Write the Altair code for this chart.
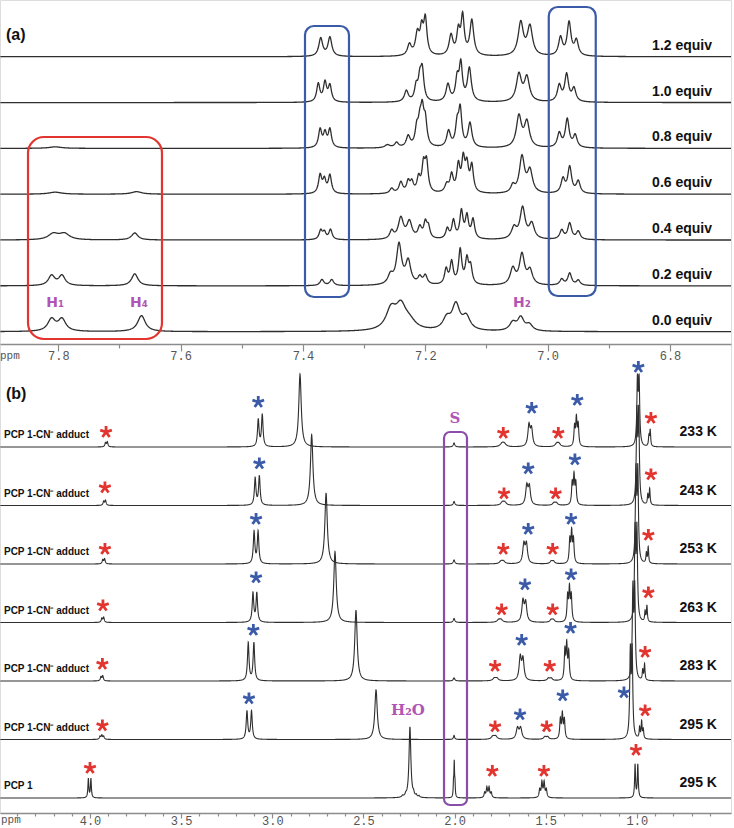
import numpy as np
import pandas as pd
import altair as alt

alt.data_transformers.disable_max_rows()

# ---------------------------------------------------------------------------
# (a) aromatic region, titration with cyanide: peak lists (ppm, height, half-width)
# ---------------------------------------------------------------------------
equiv_names = ["0.0 equiv", "0.2 equiv", "0.4 equiv", "0.6 equiv",
               "0.8 equiv", "1.0 equiv", "1.2 equiv"]

peaks_00 = [(7.811, 12, 0.006), (7.794, 12, 0.006), (7.664, 16, 0.006),
            (7.256, 20, 0.008), (7.240, 22, 0.008), (7.226, 8, 0.01),
            (7.165, 11, 0.006), (7.150, 25, 0.006), (7.133, 13, 0.006),
            (7.057, 8, 0.005), (7.044, 13, 0.005), (7.030, 6, 0.005)]
peaks_02 = [(7.811, 10, 0.005), (7.794, 10, 0.005), (7.675, 12, 0.005),
            (7.369, 6, 0.003), (7.353, 6, 0.003),
            (7.257, 9, 0.004), (7.243, 40, 0.004), (7.228, 23, 0.004),
            (7.209, 7, 0.003), (7.200, 9, 0.003),
            (7.166, 15, 0.0025), (7.157, 22, 0.0025), (7.143, 34, 0.0025),
            (7.132, 24, 0.0025), (7.126, 17, 0.0025),
            (7.057, 16, 0.004), (7.042, 30, 0.004), (7.029, 14, 0.004),
            (6.977, 6, 0.003), (6.964, 12, 0.003), (6.950, 5, 0.003)]
peaks_04 = [(7.808, 6, 0.008), (7.790, 6, 0.008), (7.675, 7, 0.005),
            (7.371, 9, 0.0025), (7.365, 7, 0.0025), (7.355, 10, 0.0025),
            (7.255, 8, 0.003), (7.240, 21, 0.004), (7.226, 17, 0.004),
            (7.209, 11, 0.003), (7.200, 15, 0.0025), (7.195, 11, 0.0025),
            (7.164, 10, 0.0025), (7.154, 18, 0.0025), (7.141, 27, 0.0025),
            (7.132, 22, 0.0025), (7.122, 19, 0.0025),
            (7.055, 11, 0.004), (7.041, 31, 0.004), (7.026, 15, 0.004),
            (6.977, 9, 0.003), (6.964, 16, 0.003), (6.950, 8, 0.003)]
peaks_06 = [(7.805, 2, 0.01), (7.672, 2.5, 0.008),
            (7.372, 18, 0.0025), (7.365, 13, 0.0025), (7.356, 18, 0.0025),
            (7.255, 5, 0.003), (7.240, 11, 0.003), (7.228, 11, 0.0025),
            (7.222, 10, 0.0025), (7.211, 14, 0.0025), (7.203, 26, 0.0025),
            (7.198, 29, 0.0025),
            (7.165, 8, 0.003), (7.157, 17, 0.0025), (7.146, 26, 0.0025),
            (7.138, 31, 0.0025), (7.132, 25, 0.0025), (7.124, 26, 0.0025),
            (7.057, 7, 0.003), (7.042, 36, 0.004), (7.029, 22, 0.004),
            (6.975, 14, 0.003), (6.964, 26, 0.003), (6.950, 12, 0.003)]
peaks_08 = [(7.805, 1.5, 0.01),
            (7.372, 18, 0.0025), (7.364, 14, 0.0025), (7.356, 18, 0.0025),
            (7.262, 3, 0.004), (7.247, 5, 0.003), (7.228, 11, 0.003),
            (7.214, 17, 0.0025), (7.209, 20, 0.0025), (7.205, 32, 0.0025),
            (7.200, 24, 0.0025),
            (7.162, 16, 0.003), (7.148, 21, 0.0025), (7.143, 36, 0.0025),
            (7.127, 24, 0.003),
            (7.047, 31, 0.004), (7.034, 25, 0.004),
            (6.981, 14, 0.003), (6.968, 28, 0.003), (6.955, 12, 0.003)]
peaks_10 = [(7.375, 18, 0.0025), (7.364, 19, 0.0025), (7.356, 16, 0.0025),
            (7.231, 11, 0.003), (7.215, 14, 0.0025), (7.209, 20, 0.0025),
            (7.205, 29, 0.0025),
            (7.163, 17, 0.003), (7.148, 21, 0.0025), (7.142, 36, 0.0025),
            (7.128, 33, 0.003),
            (7.047, 27, 0.004), (7.034, 24, 0.004),
            (6.981, 16, 0.003), (6.969, 27, 0.003), (6.957, 13, 0.003)]
peaks_12 = [(7.371, 18, 0.003), (7.356, 19, 0.003),
            (7.226, 11, 0.003), (7.213, 21, 0.003), (7.206, 24, 0.0025),
            (7.200, 35, 0.0025),
            (7.158, 20, 0.003), (7.146, 23, 0.0025), (7.139, 38, 0.0025),
            (7.124, 35, 0.003),
            (7.044, 33, 0.004), (7.029, 29, 0.004),
            (6.979, 18, 0.003), (6.965, 33, 0.003), (6.953, 15, 0.003)]
titration_peaks = [peaks_00, peaks_02, peaks_04, peaks_06, peaks_08, peaks_10, peaks_12]

# ---------------------------------------------------------------------------
# (b) aliphatic region, variable temperature
# ---------------------------------------------------------------------------
left_names = ["PCP 1"] + ["PCP 1-CN\u207b adduct"] * 6
temp_names = ["295 K", "295 K", "283 K", "263 K", "253 K", "243 K", "233 K"]

pcp1 = [(4.009, 19, 0.003), (3.995, 19, 0.003),
        (2.285, 1.5, 0.005), (2.268, 2, 0.004), (2.245, 71, 0.006),
        (2.225, 3, 0.004), (2.210, 2, 0.004), (2.195, 1.5, 0.004),
        (2.006, 13, 0.002), (2.002, 33, 0.002), (1.998, 13, 0.002),
        (1.835, 5, 0.004), (1.823, 10, 0.004), (1.811, 10, 0.004), (1.799, 5, 0.004),
        (1.533, 8, 0.004), (1.521, 15, 0.004), (1.509, 15, 0.004), (1.497, 8, 0.004),
        (1.010, 33, 0.003), (0.995, 33, 0.003)]
k295 = [(3.945, 3, 0.004), (3.935, 4, 0.004), (3.925, 3, 0.004),
        (3.139, 28, 0.005), (3.114, 28, 0.005),
        (2.431, 50, 0.008), (2.003, 4, 0.004),
        (1.790, 3, 0.01), (1.775, 3, 0.01),
        (1.655, 11, 0.008), (1.638, 11, 0.008),
        (1.505, 2.5, 0.008), (1.490, 2.5, 0.008),
        (1.420, 19, 0.004), (1.409, 24, 0.004), (1.398, 19, 0.004),
        (1.036, 84, 0.004), (1.026, 84, 0.004),
        (0.985, 11, 0.003), (0.974, 17, 0.003), (0.965, 9, 0.003)]
k283 = [(3.940, 4, 0.004), (3.930, 5, 0.004),
        (3.132, 38, 0.005), (3.101, 38, 0.005),
        (2.541, 71, 0.008), (2.003, 3, 0.005),
        (1.782, 2.5, 0.01), (1.768, 2.5, 0.01),
        (1.640, 23, 0.007), (1.625, 21, 0.007),
        (1.485, 2.5, 0.008), (1.470, 2.5, 0.008),
        (1.395, 29, 0.004), (1.385, 34, 0.004), (1.374, 27, 0.004),
        (1.022, 88, 0.004), (1.012, 88, 0.004),
        (0.968, 10, 0.003), (0.958, 16, 0.003)]
k263 = [(3.935, 4, 0.004), (3.925, 5, 0.004),
        (3.106, 29, 0.005), (3.085, 29, 0.005),
        (2.656, 71, 0.008), (2.003, 4, 0.005),
        (1.758, 2.5, 0.01), (1.745, 2.5, 0.01),
        (1.625, 21, 0.007), (1.610, 19, 0.007),
        (1.380, 25, 0.004), (1.370, 32, 0.004), (1.360, 25, 0.004),
        (1.470, 2.5, 0.008), (1.458, 2.5, 0.008),
        (1.010, 88, 0.004), (1.000, 88, 0.004),
        (0.955, 10, 0.003), (0.945, 16, 0.003)]
k253 = [(3.930, 4, 0.004), (3.920, 5, 0.004),
        (3.100, 32, 0.005), (3.078, 32, 0.005),
        (2.705, 71, 0.008), (2.003, 4, 0.005),
        (1.745, 2.5, 0.01), (1.732, 2.5, 0.01),
        (1.620, 19, 0.007), (1.606, 19, 0.007),
        (1.470, 2.5, 0.008), (1.458, 2.5, 0.008),
        (1.368, 23, 0.004), (1.358, 30, 0.004), (1.348, 23, 0.004),
        (1.005, 88, 0.004), (0.995, 88, 0.004),
        (0.948, 10, 0.003), (0.938, 16, 0.003)]
k243 = [(3.925, 4, 0.004), (3.915, 5, 0.004),
        (3.094, 27, 0.005), (3.071, 29, 0.005),
        (2.784, 71, 0.008), (2.003, 4, 0.005),
        (1.738, 3, 0.01), (1.725, 3, 0.01),
        (1.604, 19, 0.007), (1.590, 18, 0.007),
        (1.455, 2.5, 0.008), (1.442, 2.5, 0.008),
        (1.355, 21, 0.004), (1.345, 28, 0.004), (1.335, 21, 0.004),
        (1.000, 88, 0.004), (0.990, 88, 0.004),
        (0.940, 10, 0.003), (0.930, 16, 0.003)]
k233 = [(3.915, 4, 0.004), (3.905, 5, 0.004),
        (3.077, 27, 0.005), (3.055, 32, 0.005),
        (2.848, 73, 0.008), (2.003, 4, 0.005),
        (1.740, 3, 0.012), (1.728, 3, 0.012),
        (1.592, 21, 0.007), (1.578, 17, 0.007),
        (1.440, 3, 0.01), (1.428, 3, 0.01),
        (1.342, 19, 0.004), (1.332, 27, 0.004), (1.322, 21, 0.004),
        (0.997, 63, 0.004), (0.988, 63, 0.004),
        (0.934, 10, 0.003), (0.927, 16, 0.003)]
vt_peaks = [pcp1, k295, k283, k263, k253, k243, k233]

# starred signals: (trace index, ppm, height above the trace baseline)
red_stars = [(0, 4.000, 30), (0, 1.793, 27), (0, 1.510, 27), (0, 1.005, 48),
             (1, 3.932, 14), (1, 1.778, 13), (1, 1.495, 13), (1, 0.955, 29),
             (2, 3.932, 17), (2, 1.778, 15), (2, 1.478, 15), (2, 0.955, 29),
             (3, 3.929, 17), (3, 1.742, 13), (3, 1.462, 13), (3, 0.937, 30),
             (4, 3.918, 15), (4, 1.733, 15), (4, 1.462, 15), (4, 0.937, 29),
             (5, 3.918, 18), (5, 1.729, 12), (5, 1.446, 12), (5, 0.923, 31),
             (6, 3.912, 15), (6, 1.733, 14), (6, 1.431, 14), (6, 0.923, 29)]
blue_stars = [(1, 3.128, 41), (1, 1.641, 25), (1, 1.407, 44), (1, 1.071, 47),
              (2, 3.104, 51), (2, 1.632, 41), (2, 1.364, 53),
              (3, 3.089, 45), (3, 1.614, 38), (3, 1.361, 48),
              (4, 3.089, 45), (4, 1.596, 35), (4, 1.361, 45),
              (5, 3.071, 42), (5, 1.596, 37), (5, 1.340, 46),
              (6, 3.077, 45), (6, 1.577, 39), (6, 1.327, 47), (6, 0.992, 80)]

# ---------------------------------------------------------------------------
# layout constants (vertical units are pixels above the lower ppm axis)
# ---------------------------------------------------------------------------
PLOT_W, PLOT_H = 731, 813
A_AXIS_Y = 344
A_BASE0, A_STEP = 481.3, 45.83
B_BASE0, B_STEP = 15.0, 58.5
A_DOMAIN = [6.7003, 7.8953]
B_DOMAIN = [0.4838, 4.4937]
A_BROADEN = 1.25          # extra line broadening for the aromatic traces

RED = "#e2352f"
BLUE = "#3b5ba9"
PURPLE = "#8b4ea8"
MAGENTA = "#b055b4"
INK = "#2e2e2e"


def lorentz_trace(peaks, lo, hi, step, broaden=1.0):
    peaks = [(c, h, w * broaden) for c, h, w in peaks]
    grid = [np.arange(lo, hi, step)]
    for c, h, w in peaks:
        grid.append(c + w * np.linspace(-6, 6, 31))
    x = np.unique(np.round(np.concatenate(grid), 5))
    x = x[(x >= lo) & (x <= hi)]
    s = np.zeros_like(x)
    for c, h, w in peaks:
        s += h * w * w / ((x - c) ** 2 + w * w)
    return x, s


rows_a = []
for i, pk in enumerate(titration_peaks):
    x, s = lorentz_trace(pk, A_DOMAIN[0], A_DOMAIN[1], 0.0008, A_BROADEN)
    base = A_BASE0 + A_STEP * i
    rows_a.append(pd.DataFrame({"ppm": np.round(x, 5), "y": np.round(base + s, 2),
                                "trace": equiv_names[i]}))
lines_a_df = pd.concat(rows_a, ignore_index=True)

rows_b = []
for i, pk in enumerate(vt_peaks):
    x, s = lorentz_trace(pk, B_DOMAIN[0], B_DOMAIN[1], 0.002)
    base = B_BASE0 + B_STEP * i
    rows_b.append(pd.DataFrame({"ppm": np.round(x, 5), "y": np.round(base + s, 2),
                                "trace": f"t{i}"}))
lines_b_df = pd.concat(rows_b, ignore_index=True)

y_scale = alt.Scale(domain=[0, PLOT_H], nice=False, zero=False)
a_scale = alt.Scale(domain=A_DOMAIN, reverse=True, nice=False, zero=False)
b_scale = alt.Scale(domain=B_DOMAIN, reverse=True, nice=False, zero=False)


def ppm_axis(values, mult, offset, pad, major, minor):
    test = f"abs(round(datum.value*{mult}) - datum.value*{mult}) < 0.01"
    return alt.Axis(values=values, orient="bottom", offset=offset, title=None, grid=False,
                    domainColor="#8c8c8c", domainWidth=1.5,
                    tickColor="#8c8c8c", tickWidth=1.2,
                    tickSize={"condition": {"test": test, "value": major}, "value": minor},
                    labelExpr=f"{test} ? format(datum.value, '.1f') : ''",
                    labelFont="Liberation Mono", labelFontSize=12, labelColor="#555555",
                    labelPadding=pad, labelFlush=False, labelOverlap=False, labelBound=False)


a_ticks = [round(6.8 + 0.1 * k, 1) for k in range(11)]
b_ticks = [round(0.6 + 0.1 * k, 1) for k in range(39)]
axis_a = ppm_axis(a_ticks, 5, -(PLOT_H - A_AXIS_Y), -1, 7, 4)
axis_b = ppm_axis(b_ticks, 2, 0, -3, 5, 3)

ya = alt.Y("y:Q", scale=y_scale, axis=None)


def xa(field):
    return alt.X(field, scale=a_scale, axis=axis_a)


def xb(field):
    return alt.X(field, scale=b_scale, axis=axis_b)


# ---------------- panel (a) layers ----------------
lines_a = alt.Chart(lines_a_df).mark_line(color=INK, strokeWidth=1.3).encode(
    x=xa("ppm:Q"), y=ya, detail="trace:N")

boxes_a_df = pd.DataFrame({
    "x1": [7.8495, 7.3967, 6.9982], "x2": [7.6305, 7.3248, 6.9214],
    "y1": [474, 516, 517], "y2": [676, 787, 806]})
red_box = alt.Chart(boxes_a_df.iloc[[0]]).mark_rect(
    filled=False, strokeWidth=2.2, cornerRadius=16, stroke=RED).encode(
    x=xa("x1:Q"), x2="x2:Q", y=alt.Y("y1:Q", scale=y_scale, axis=None), y2="y2:Q")
blue_boxes = alt.Chart(boxes_a_df.iloc[[1, 2]]).mark_rect(
    filled=False, strokeWidth=2.2, cornerRadius=9, stroke=BLUE).encode(
    x=xa("x1:Q"), x2="x2:Q", y=alt.Y("y1:Q", scale=y_scale, axis=None), y2="y2:Q")

equiv_df = pd.DataFrame({"label": equiv_names,
                         "ppm": [6.7313] * 7,
                         "y": [A_BASE0 + A_STEP * i + 11 for i in range(7)]})
equiv_text = alt.Chart(equiv_df).mark_text(
    font="Liberation Sans", fontWeight="bold", fontSize=14, align="right",
    baseline="middle", color="#111111").encode(
    x=xa("ppm:Q"), y=alt.Y("y:Q", scale=y_scale, axis=None), text="label:N")

proton_df = pd.DataFrame({"label": ["H\u2081", "H\u2084", "H\u2082"],
                          "ppm": [7.805, 7.668, 7.042],
                          "y": [510, 510, 510]})
proton_text = alt.Chart(proton_df).mark_text(
    font="DejaVu Sans", fontWeight="bold", fontSize=14, align="center",
    baseline="middle", color=MAGENTA).encode(
    x=xa("ppm:Q"), y=alt.Y("y:Q", scale=y_scale, axis=None), text="label:N")

panel_a = alt.layer(lines_a, red_box, blue_boxes, equiv_text, proton_text)

# ---------------- panel (b) layers ----------------
lines_b = alt.Chart(lines_b_df).mark_line(color=INK, strokeWidth=1.1).encode(
    x=xb("ppm:Q"), y=ya, detail="trace:N")

solvent_box_df = pd.DataFrame({"x1": [2.058], "x2": [1.932], "y1": [8], "y2": [381]})
solvent_box = alt.Chart(solvent_box_df).mark_rect(
    filled=False, strokeWidth=2.2, cornerRadius=6, stroke=PURPLE).encode(
    x=xb("x1:Q"), x2="x2:Q", y=alt.Y("y1:Q", scale=y_scale, axis=None), y2="y2:Q")

star_rows = ([{"ppm": p, "y": B_BASE0 + B_STEP * t + h, "col": RED} for t, p, h in red_stars] +
             [{"ppm": p, "y": B_BASE0 + B_STEP * t + h, "col": BLUE} for t, p, h in blue_stars])
star_df = pd.DataFrame(star_rows)
STAR = ("M0,-1L0,0M0.951,-0.309L0,0M0.588,0.809L0,0"
        "M-0.588,0.809L0,0M-0.951,-0.309L0,0")
stars = alt.Chart(star_df).mark_point(
    shape=STAR, filled=False, size=150, strokeWidth=2.8, opacity=1).encode(
    x=xb("ppm:Q"), y=alt.Y("y:Q", scale=y_scale, axis=None),
    stroke=alt.Stroke("col:N", scale=None))

left_df = pd.DataFrame({"label": left_names, "ppm": [4.472] * 7,
                        "y": [B_BASE0 + B_STEP * i + 12 for i in range(7)]})
left_text = alt.Chart(left_df).mark_text(
    font="Liberation Sans", fontWeight="bold", fontSize=10, align="left",
    baseline="middle", color="#111111").encode(
    x=xb("ppm:Q"), y=alt.Y("y:Q", scale=y_scale, axis=None), text="label:N")

temp_df = pd.DataFrame({"label": temp_names, "ppm": [0.561] * 7,
                        "y": [B_BASE0 + B_STEP * i + 15 for i in range(7)]})
temp_text = alt.Chart(temp_df).mark_text(
    font="Liberation Sans", fontWeight="bold", fontSize=14, align="right",
    baseline="middle", color="#111111").encode(
    x=xb("ppm:Q"), y=alt.Y("y:Q", scale=y_scale, axis=None), text="label:N")

serif_df = pd.DataFrame({"label": ["S", "H\u2082O"], "ppm": [1.998, 2.256], "y": [395, 103]})
serif_text = alt.Chart(serif_df).mark_text(
    font="DejaVu Serif", fontWeight="bold", fontSize=15, align="center",
    baseline="middle", color=MAGENTA).encode(
    x=xb("ppm:Q"), y=alt.Y("y:Q", scale=y_scale, axis=None), text="label:N")

panel_b = alt.layer(lines_b, solvent_box, stars, left_text, temp_text, serif_text)

# ---------------- panel captions and axis unit ----------------
caption_df = pd.DataFrame({"label": ["(a)", "(b)"], "px": [6, 6], "py": [35, 394]})
captions = alt.Chart(caption_df).mark_text(
    font="Liberation Sans", fontWeight="bold", fontSize=16, align="left",
    baseline="middle", color="#111111").encode(
    x=alt.X("px:Q", scale=None), y=alt.Y("py:Q", scale=None), text="label:N")

unit_df = pd.DataFrame({"label": ["ppm", "ppm"], "px": [0, 1], "py": [356, 820]})
units = alt.Chart(unit_df).mark_text(
    font="Liberation Mono", fontSize=11, align="left", baseline="middle",
    color="#555555").encode(
    x=alt.X("px:Q", scale=None), y=alt.Y("py:Q", scale=None), text="label:N")

chart = alt.layer(panel_a, panel_b, captions, units).resolve_scale(
    x="independent").properties(
    width=PLOT_W, height=PLOT_H,
    autosize=alt.AutoSizeParams(type="none"),
    padding={"left": 0, "top": 0, "right": 3, "bottom": 15},
).configure_view(stroke=None).configure(background="white")

chart.save("out.html", embed_options={"renderer": "svg", "actions": False})
